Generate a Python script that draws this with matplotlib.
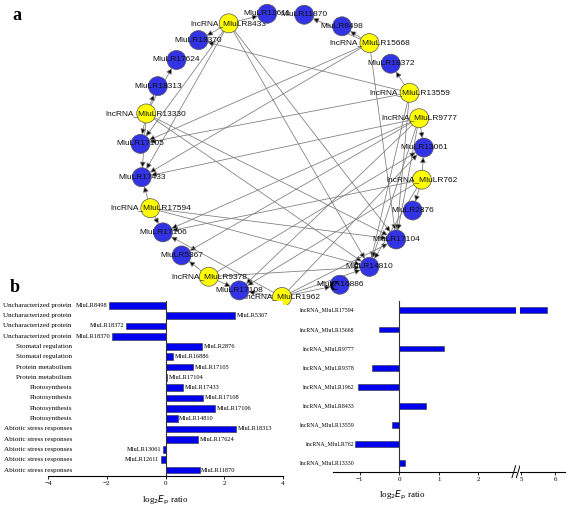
import numpy as np
import matplotlib
matplotlib.use("Agg")
import matplotlib.pyplot as plt
from matplotlib.patches import Circle, FancyArrowPatch

# ---- network (panel a) ----
# nodes in circular order (clockwise from top-left)
NODES = [
    "lncRNA_MluLR8433", "MluLR12611", "MluLR11870", "MluLR8498", "lncRNA_MluLR15668",
    "MluLR18372", "lncRNA_MluLR13559", "lncRNA_MluLR9777", "MluLR13061", "lncRNA_MluLR762",
    "MluLR2876", "MluLR17104", "MluLR14810", "MluLR16886", "lncRNA_MluLR1962",
    "MluLR17108", "lncRNA_MluLR9378", "MluLR5367", "MluLR17106", "lncRNA_MluLR17594",
    "MluLR17433", "MluLR17105", "lncRNA_MluLR13330", "MluLR18313", "MluLR17624",
    "MluLR18370",
]
# layout angle of each node on the circle (degrees)
NODE_ANGLE = [112, 96, 81, 65, 52, 40, 26, 15, 3, -10, -23, -36.5, -52, -66, -90,
              -107.5, -121, -135, -147, -158, -171, 175.5, 163, 151, 138, 126]

EDGES = {
    "lncRNA_MluLR8433": ["MluLR12611", "MluLR18370", "MluLR17105", "MluLR17433", "MluLR14810", "MluLR17104"],
    "lncRNA_MluLR15668": ["MluLR8498", "MluLR11870", "MluLR17105", "MluLR17433", "MluLR17104"],
    "lncRNA_MluLR13559": ["MluLR18372", "MluLR18370", "MluLR17105", "MluLR17104", "MluLR14810"],
    "lncRNA_MluLR9777": ["MluLR13061", "MluLR17433", "MluLR17106", "MluLR5367", "MluLR17108", "MluLR14810", "MluLR17104"],
    "lncRNA_MluLR762": ["MluLR13061", "MluLR2876", "MluLR17106", "MluLR17108", "MluLR14810"],
    "lncRNA_MluLR13330": ["MluLR18313", "MluLR17624", "MluLR17105", "MluLR17433", "MluLR14810", "MluLR17104"],
    "lncRNA_MluLR17594": ["MluLR17433", "MluLR17106", "MluLR14810", "MluLR17104"],
    "lncRNA_MluLR9378": ["MluLR5367", "MluLR17108", "MluLR14810", "MluLR13061"],
    "lncRNA_MluLR1962": ["MluLR17108", "MluLR16886", "MluLR14810", "MluLR13061", "MluLR17106", "MluLR17104"],
}

# ---- panel b ----
B_FUNCTION = [
    "Uncharacterized protein", "Uncharacterized protein", "Uncharacterized protein",
    "Uncharacterized protein", "Stomatal regulation", "Stomatal regulation",
    "Protein metabolism", "Protein metabolism", "Photosynthesis", "Photosynthesis",
    "Photosynthesis", "Photosynthesis", "Abiotic stress responses",
    "Abiotic stress responses", "Abiotic stress responses", "Abiotic stress responses",
    "Abiotic stress responses",
]
B_GENE = [
    "MluLR8498", "MluLR5367", "MluLR18372", "MluLR18370", "MluLR2876", "MluLR16886",
    "MluLR17105", "MluLR17104", "MluLR17433", "MluLR17108", "MluLR17106", "MluLR14810",
    "MluLR18313", "MluLR17624", "MluLR13061", "MluLR12611", "MluLR11870",
]
B_VALUE = [-1.94, 2.38, -1.34, -1.81, 1.25, 0.26, 0.93, 0.06, 0.59, 1.28, 1.69, 0.41,
           2.41, 1.10, -0.10, -0.17, 1.16]

# ---- panel c ----
C_GENE = [
    "lncRNA_MluLR17594", "lncRNA_MluLR15668", "lncRNA_MluLR9777", "lncRNA_MluLR9378",
    "lncRNA_MluLR1962", "lncRNA_MluLR8433", "lncRNA_MluLR13559", "lncRNA_MluLR762",
    "lncRNA_MluLR13330",
]
C_VALUE = [5.75, -0.51, 1.13, -0.68, -1.04, 0.69, -0.19, -1.12, 0.15]

W, H = 567, 508
fig = plt.figure(figsize=(W / 100, H / 100), dpi=100)
SERIF = "Liberation Serif"
SANS = "Liberation Sans"
BAR_BLUE = "#0000f0"
NODE_BLUE = "#3333e6"
NODE_YELLOW = "#ffff00"

# ---------------- panel a ----------------
ax_a = fig.add_axes([0, 1 - 305 / H, 1, 305 / H])
ax_a.set_xlim(0, W)
ax_a.set_ylim(305, 0)
ax_a.axis("off")

cx, cy, rad = 282, 155, 142
node_r = 9.5
pos = {}
for name, ang in zip(NODES, NODE_ANGLE):
    a = np.deg2rad(ang)
    pos[name] = (cx + rad * np.cos(a), cy - rad * np.sin(a))

for src, targets in EDGES.items():
    for tgt in targets:
        arr = FancyArrowPatch(pos[src], pos[tgt], arrowstyle="-|>", mutation_scale=8.5,
                              shrinkA=6.5, shrinkB=6.8, linewidth=0.55,
                              edgecolor="#7a7a7a", facecolor="black", zorder=1)
        ax_a.add_patch(arr)

for i, name in enumerate(NODES):
    x, y = pos[name]
    col = NODE_YELLOW if name.startswith("lncRNA") else NODE_BLUE
    ax_a.add_patch(Circle((x, y), node_r, facecolor=col, edgecolor="#555555",
                          linewidth=0.5, zorder=2 + 2 * i))
    ax_a.text(x, y, name, ha="center", va="center", fontsize=6, family=SANS,
              color="#111111", zorder=3 + 2 * i)

fig.text(12 / W, 1 - 15 / H, "a", fontsize=13, fontweight="bold", family=SERIF,
         ha="left", va="center")

# ---------------- panel b ----------------
ax_b = fig.add_axes([48 / W, (H - 475.7) / H, 235 / W, 175 / H])
yb = np.arange(len(B_VALUE))
ax_b.barh(yb, B_VALUE, height=0.65, color=BAR_BLUE, edgecolor="#333333", linewidth=0.4)
ax_b.set_xlim(-4, 4)
ax_b.set_ylim(len(B_VALUE) - 0.45, -0.45)
ax_b.axvline(0, color="#333333", linewidth=0.8)
for s in ["top", "right", "left"]:
    ax_b.spines[s].set_visible(False)
ax_b.spines["bottom"].set_linewidth(0.8)
ax_b.set_yticks([])
ax_b.set_xticks([-4, -2, 0, 2, 4])
ax_b.tick_params(axis="x", labelsize=5, length=2.5, width=0.6, pad=1.5)
for t in ax_b.get_xticklabels():
    t.set_family(SERIF)
for yi, v, g, f in zip(yb, B_VALUE, B_GENE, B_FUNCTION):
    if v >= 0:
        ax_b.text(v + 0.05, yi, g, ha="left", va="center", fontsize=4.6, family=SERIF)
    else:
        ax_b.text(v - 0.05, yi, g, ha="right", va="center", fontsize=4.6, family=SERIF)
    ax_b.text(0.102, yi, f, transform=ax_b.get_yaxis_transform(), ha="right",
              va="center", fontsize=5.1, family=SERIF)
ax_b.set_xlabel(r"log$_2$$E_\mathrm{p}$ ratio", fontsize=6.5, family=SERIF)
ax_b.xaxis.set_label_coords(0.5, -0.105)
fig.text(10 / W, 1 - 288 / H, "b", fontsize=13, fontweight="bold", family=SERIF,
         ha="left", va="center")

# ---------------- panel c ----------------
bottom_c = (H - 471.7) / H
height_c = 171 / H
ax_c1 = fig.add_axes([333 / W, bottom_c, 183 / W, height_c])
ax_c2 = fig.add_axes([520 / W, bottom_c, 45 / W, height_c])
yc = np.arange(len(C_VALUE))
for ax in (ax_c1, ax_c2):
    ax.barh(yc, C_VALUE, height=0.3, color=BAR_BLUE, edgecolor="#333333", linewidth=0.4)
    ax.set_ylim(len(C_VALUE) - 0.56, -0.5)
    for s in ["top", "right", "left"]:
        ax.spines[s].set_visible(False)
    ax.spines["bottom"].set_linewidth(0.8)
    ax.set_yticks([])
    ax.tick_params(axis="x", labelsize=5, length=2.5, width=0.6, pad=1.5)
ax_c1.set_xlim(-1.68, 2.96)
ax_c2.set_xlim(4.97, 6.28)
ax_c1.set_xticks([-1, 0, 1, 2])
ax_c2.set_xticks([5, 6])
for ax in (ax_c1, ax_c2):
    for t in ax.get_xticklabels():
        t.set_family(SERIF)
ax_c1.axvline(0, color="#333333", linewidth=0.8)
for yi, g in zip(yc, C_GENE):
    ax_c1.text(0.116, yi, g, transform=ax_c1.get_yaxis_transform(), ha="right",
               va="center", fontsize=4.2, family=SERIF)
# axis break marks
for dx in (-0.012, 0.012):
    ax_c1.plot([1.0 + dx - 0.01, 1.0 + dx + 0.01], [-0.035, 0.035], transform=ax_c1.transAxes,
               color="black", linewidth=0.7, clip_on=False)
ax_c1.set_xlabel(r"log$_2$$E_\mathrm{p}$ ratio", fontsize=6.5, family=SERIF)
ax_c1.xaxis.set_label_coords(0.38, -0.1)
fig.text(329 / W, 1 - 286 / H, "c", fontsize=13, fontweight="bold", family=SERIF,
         ha="left", va="center")

fig.savefig("out.png", dpi=100)
